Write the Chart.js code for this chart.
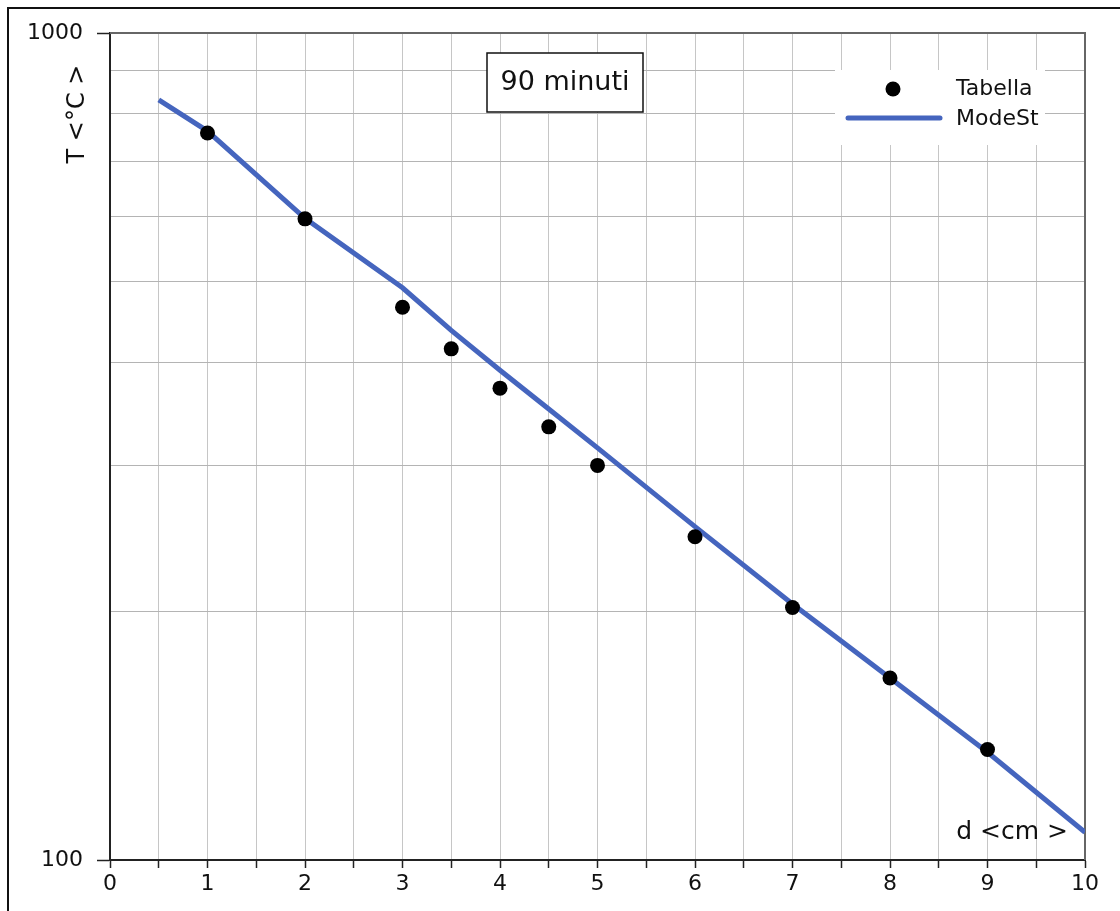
<!DOCTYPE html>
<html>
<head>
<meta charset="utf-8">
<title>90 minuti</title>
<script src="https://cdn.jsdelivr.net/npm/chart.js@4/dist/chart.umd.min.js"></script>
<style>
	html, body { margin: 0; padding: 0; background: #fff; }
	#wrap { position: relative; width: 1120px; height: 911px; overflow: hidden; }
	#frame { position: absolute; left: 7px; top: 7px; width: 1120px; height: 911px;
		border-left: 2px solid #111; border-top: 2px solid #111; pointer-events: none; }
	canvas { position: absolute; left: 0; top: 0; }
</style>
</head>
<body>
<div id="wrap">
	<canvas id="chart" width="1120" height="911"></canvas>
	<div id="frame"></div>
</div>
<script>
// measured points (Tabella)
var tabellaX = [1, 2, 3, 3.5, 4, 4.5, 5, 6, 7, 8, 9];
var tabellaT = [757, 596, 466, 415, 372, 334, 300, 246, 202, 166, 136];

// model curve (ModeSt)
var modelX = [0.5, 1, 2, 3, 3.5, 4, 4.5, 5, 6, 7, 8, 9, 10];
var modelT = [830, 761, 597, 492, 437, 391, 351, 315, 253, 204, 166, 135, 108];

// y grid lines and the ones that get a label
var yGrid = [100, 200, 300, 400, 500, 600, 700, 800, 900, 1000];
var yLabels = [100, 1000];

var FONT = "'DejaVu Sans', 'Liberation Sans', sans-serif";
var lineColor = '#4565be';

var toPoints = function(xs, ys) {
	return xs.map(function(x, i) { return {x: x, y: ys[i]}; });
};

var isLabeled = function(v) {
	return yLabels.indexOf(v) !== -1;
};

/**
 * frame, annotation, axis titles and legend
 */
var extras = {
	id: 'extras',
	beforeDatasetsDraw: function(chart) {
		var ctx = chart.ctx;
		var a = chart.chartArea;
		ctx.save();
		ctx.strokeStyle = '#666';
		ctx.lineWidth = 2;
		ctx.beginPath();
		ctx.moveTo(a.left, a.top);
		ctx.lineTo(a.right, a.top);
		ctx.lineTo(a.right, a.bottom);
		ctx.stroke();
		ctx.restore();
	},
	afterDraw: function(chart) {
		var ctx = chart.ctx;
		ctx.save();

		// annotation box
		ctx.fillStyle = '#fff';
		ctx.fillRect(487, 53, 156, 59);
		ctx.strokeStyle = '#111';
		ctx.lineWidth = 1.5;
		ctx.strokeRect(487, 53, 156, 59);
		ctx.fillStyle = '#111';
		ctx.font = '27px ' + FONT;
		ctx.textAlign = 'center';
		ctx.textBaseline = 'middle';
		ctx.fillText('90 minuti', 565, 83);

		// x title inside the plot
		ctx.font = '25px ' + FONT;
		ctx.textAlign = 'right';
		ctx.fillText('d <cm >', 1068, 832);

		// y title
		ctx.save();
		ctx.translate(78, 114);
		ctx.rotate(-Math.PI / 2);
		ctx.font = '24px ' + FONT;
		ctx.textAlign = 'center';
		ctx.fillText('T <°C >', 0, 0);
		ctx.restore();

		// legend
		var ds = chart.data.datasets;
		ctx.fillStyle = '#fff';
		ctx.fillRect(835, 70, 210, 75);
		ctx.fillStyle = ds[0].backgroundColor;
		ctx.beginPath();
		ctx.arc(893, 89, 7.5, 0, Math.PI * 2);
		ctx.fill();
		ctx.strokeStyle = ds[1].borderColor;
		ctx.lineWidth = ds[1].borderWidth;
		ctx.lineCap = 'round';
		ctx.beginPath();
		ctx.moveTo(848, 118);
		ctx.lineTo(940, 118);
		ctx.stroke();
		ctx.fillStyle = '#111';
		ctx.font = '22px ' + FONT;
		ctx.textAlign = 'left';
		ctx.textBaseline = 'middle';
		ctx.fillText(ds[0].label, 956, 89);
		ctx.fillText(ds[1].label, 956, 119);

		ctx.restore();
	}
};

var ctx = document.getElementById('chart');
var chart = new Chart(ctx, {
	type: 'scatter',
	data: {
		datasets: [
			{
				label: 'Tabella',
				data: toPoints(tabellaX, tabellaT),
				backgroundColor: '#000',
				borderColor: '#000',
				pointRadius: 7.5,
				pointBorderWidth: 0,
				showLine: false,
				order: 0
			},
			{
				label: 'ModeSt',
				data: toPoints(modelX, modelT),
				borderColor: lineColor,
				backgroundColor: lineColor,
				borderWidth: 5,
				pointRadius: 0,
				showLine: true,
				tension: 0,
				borderCapStyle: 'butt',
				order: 1
			}
		]
	},
	options: {
		responsive: false,
		animation: false,
		devicePixelRatio: 1,
		layout: {
			padding: {left: 0, top: 33, right: 35, bottom: 0}
		},
		plugins: {
			legend: {display: false},
			tooltip: {enabled: false}
		},
		scales: {
			x: {
				type: 'linear',
				min: 0,
				max: 10,
				ticks: {
					stepSize: 0.5,
					autoSkip: false,
					maxRotation: 0,
					padding: 3,
					color: '#111',
					font: {family: FONT, size: 22},
					callback: function(v) {
						return Number.isInteger(v) ? String(v) : '';
					}
				},
				grid: {
					color: '#c6c6c6',
					lineWidth: 1,
					tickColor: '#222',
					tickLength: 8,
					tickWidth: 1.5
				},
				border: {color: '#222', width: 2},
				afterFit: function(scale) { scale.height = 51; }
			},
			y: {
				type: 'logarithmic',
				min: 100,
				max: 1000,
				afterBuildTicks: function(scale) {
					scale.ticks = yGrid.map(function(v) { return {value: v}; });
				},
				ticks: {
					autoSkip: false,
					padding: 14,
					color: '#111',
					font: {family: FONT, size: 22},
					callback: function(v) {
						return isLabeled(v) ? String(v) : '';
					}
				},
				grid: {
					color: '#b4b4b4',
					lineWidth: 1,
					tickColor: function(c) {
						return c.tick && isLabeled(c.tick.value) ? '#222' : 'rgba(0,0,0,0)';
					},
					tickLength: 13,
					tickWidth: 1.5
				},
				border: {color: '#222', width: 2},
				afterFit: function(scale) { scale.width = 110; }
			}
		}
	},
	plugins: [extras]
});
</script>
</body>
</html>
